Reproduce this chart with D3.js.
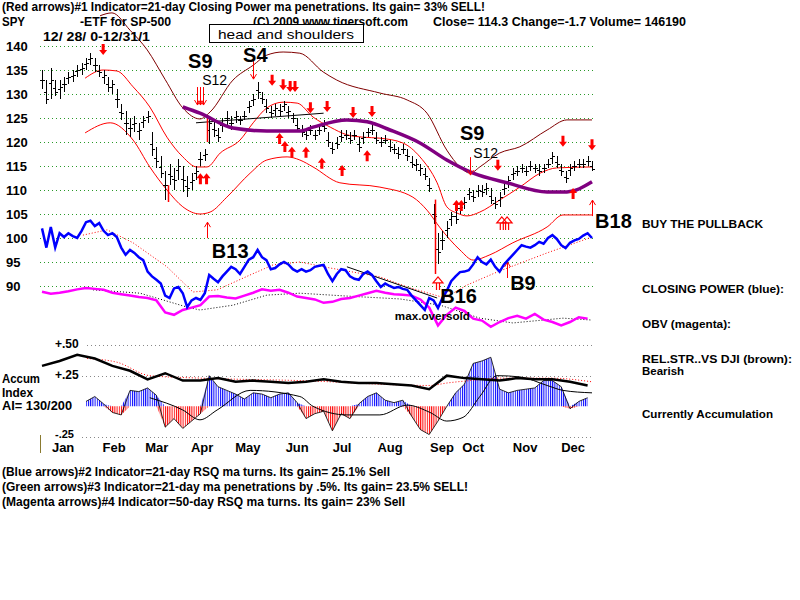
<!DOCTYPE html>
<html><head><meta charset="utf-8">
<script src="https://cdn.jsdelivr.net/npm/d3@7"></script>
<style>body{margin:0;background:#fff}svg{display:block}text{font-family:"Liberation Sans",Arial,sans-serif}</style>
</head><body><svg id="c" width="800" height="600"></svg>
<script>
// ---------------- DATA ----------------
const closes = [133,129,133,130.5,131.5,132,133.5,134,135,135.5,
136.5,137.5,136,134.5,134,131.5,132,129,126,124,
123,124,122.5,124.5,125.5,118.5,116,113.5,111,113,
112,115,112,110.5,112,114,116.5,117.5,124,122.5,
121,123.5,125,124,125.5,124.5,125.5,127.5,129,130.5,
129,127,126,127,126.5,128,126.5,125,123,122,
121.5,122.5,121.5,122.5,123,120,118.5,119.5,121,121.5,
120.5,121.5,119,121,122,122.5,120.5,120,120.5,119,
118.5,117.5,118.5,117,115.5,115.5,114.5,113,110.5,104.5,
97,99.5,102,104.5,104,106.5,107.5,109.5,108.5,110,
109.5,110.5,108,107,108.5,110.5,112,113.5,114,114.5,
114,115,114.5,114,114.5,115.5,117,115.5,114,112.5,
114.5,115,115.5,115.5,116,114.3];
const highs = [135,133,135.5,133,133,133.5,134.5,135,136,136.5,
137.5,138.5,137.5,136,135,133.5,133,131,128,126.5,
125,125.5,124,125.5,126.5,122,119,117,114,115.5,
114.5,116.5,115,113,113.5,115,118,118.5,125.5,124.5,
123,125,126.5,125.5,126.5,125.5,126.5,128.5,130,132.5,
130.5,129,127.5,128,128,128.5,127.5,126,125,123.5,
123,123.5,122.5,123.5,124.5,122,120,121,122.5,122.5,
122,122.5,121,122,123,123.5,122,121,121.5,120.5,
119.5,119,119.5,118.5,117,116.5,115.5,114.5,112.5,107,
101,101.5,103.5,105.5,106,107.5,108.5,110.5,110,111,
111,111.5,110.5,108.5,109.5,111.5,113,114.5,115,115.5,
115,116,115.5,115.5,115.5,116.5,118,117,115.5,114,
115.5,116,116.5,116.5,117,116];
const lows = [131,128,129,129.5,129,130.5,132,132.5,133.5,134,
135,136,134.5,133.5,132,130.5,130,127,124.5,121.5,
121,122,120.5,123,124,117,114.5,112.5,108,111,
110,112,109.5,108.5,110,112,115,116,119.5,121,
120,122,123.5,122.5,124,123.5,124.5,126,127.5,129,
128,126,125,125.5,125.5,126.5,125,124,122,121,
120.5,121.5,120.5,121.5,122,119,117.5,118.5,120,120.5,
119.5,120.5,118,119.5,121,121.5,119.5,119,119.5,118,
117.5,116.5,117.5,116,114.5,114,113,112,109.5,103,
94.5,97.5,100,102.5,103,105,106,108,107.5,108.5,
108.5,109,107,106,106.5,109,110.5,112,113,113.5,
113,114,113.5,113,113.5,114.5,115.5,114.5,113,111.5,
113,114,114.5,114.5,115,114];
// red highlighted bars: [index, high, low]
const redBars = [[28.6,111,107.5],[37.6,125.6,120],[89.3,108,92.5]];

// bands: [index, value]
const upperBand = [[9.8,133.3],[13.9,135],[17,134.8],[20.7,131.5],[24.5,127.3],[28.4,121],[32,116.9],[35.2,114.8],[37.5,114.8],[40.5,117.7],[45,120.4],[48,124],[51.1,127.1],[54.8,128.3],[58,128.1],[61.6,125.2],[65.5,123.1],[69.3,121.5],[73,121],[76.8,120.8],[82,119.8],[85.9,116.9],[89.8,111.5],[92,106.5],[94.3,105.2],[96.6,104.6],[99.5,105.4],[104,107.9],[108.6,110.6],[113.2,113.5],[117,114.6],[125,114.8]];
const lowerBand = [[9.8,121.9],[15.5,124],[20.7,120.4],[24.5,114.8],[28.4,110],[32,106.5],[35.9,105],[38.2,105.4],[42,108.5],[47.3,113.5],[51.1,116.25],[55.7,116.9],[58.6,116.25],[61.6,114.8],[67.7,111.5],[76.8,110.6],[84.3,108.5],[87.5,105.8],[90.5,102.1],[95,97.5],[98,95.4],[101.8,96.5],[107,99],[114.8,102.3],[118.4,104.8],[125,104.8]];
const outerBand = [[13.2,146.3],[15.9,146.9],[20,143.3],[23.9,139.2],[28,133],[32,127.1],[35.9,124.8],[38.2,126.25],[43.4,132.9],[48,136],[51.1,138.1],[54.8,138.75],[58.6,138.5],[63.9,134.6],[67,132.9],[76.8,130.2],[83,128.75],[87.5,126],[92,118.3],[95,114.8],[97.3,113.5],[99.5,114.8],[104,117.7],[108.6,119],[114.8,122.5],[119.3,124.6],[125,124.6]];
const ma50 = [[32,127.3],[35.9,126],[43.4,122.9],[51.1,122.3],[58.6,122.3],[61.6,123.1],[69.3,124.6],[73.9,124.2],[79.1,122.5],[85.9,119.8],[92,116.25],[98,113.5],[105.7,111.5],[114.8,109.6],[119.3,109.6],[125,111.7]];
const neckline = [[35,124],[64,126]];

// Closing Power (blue) and OBV (magenta), plotted in chart units
const closingPower = [102,98,102.3,98,101,100.2,101,100.4,100,101.5,
103.3,103.6,102.5,103.1,101.5,100.6,101,100.2,98,96.5,
97.5,96.9,96,95.4,93,92,91.3,90.5,88,87.5,
89.5,89.8,88.5,85.6,87,87.5,87.1,88.5,92.3,91.5,
90.8,92,93,94,93.5,92.5,94,95.5,96,97.5,
96,95.4,93.5,93.75,94.5,95,94.5,93.5,93,93.5,
93,93.3,94,94.2,94.4,92.5,91,92.5,93.5,93.3,
92,91.5,91.3,92.5,93,92.3,91,89.8,90.5,90,
89.6,89.8,89.4,89.2,88,87,86,85,87.5,87,
85.4,87.5,89,91,92,92.9,93,93.3,94.5,96,
95,94.5,95.5,94,93,94.5,95.5,96.5,97.5,98.5,
98.2,98,98.5,99.2,98.8,100,100.6,99.8,98.5,97.9,
99,99.5,99.8,100.5,101,100];
const cpMA = [[9.3,100.6],[14.8,101.7],[20.7,99],[28.4,94],[34.3,88.75],[39.8,89.2],[47.3,92.3],[52.5,94.4],[58.6,95],[65.5,93.75],[76.8,91.9],[83,89.8],[91.6,87.5],[96.6,90.2],[103.4,92.9],[114.8,96.9],[125,100.2]];
const cpTrend = [[69.3,94],[89.8,87.5]];
const obv = [88.8,88.4,88.6,88.9,89.3,89.6,89.4,89.2,88.6,88.3,
88,87.7,87.5,87,84.5,84,85,85.5,86,87.8,
87.9,87.6,87.4,88,88.6,89.3,89,89.2,88.6,87.8,
87.5,87.2,86.5,86.7,87.3,87.5,88,88.5,89,88.6,
88.3,88.2,88,87.2,85.5,81.8,84,85.5,84.8,83.2,
82.8,81.5,82.5,83.3,83.8,83.2,84.2,83,82.5,81.8,
82.5,83.5,83.2];
const obvStep = 2;
const obvMA = [[11.6,89.2],[22.3,88.5],[33,85.6],[35.9,85],[43.4,86],[51.1,88.1],[58.6,88.5],[69.3,87.9],[81.4,87.3],[90.5,86],[99.5,83.3],[107,82.3],[118.4,83.3],[125,82.9]];

// Accumulation index panel
const aiStart = 10, aiStep = 2;
const accumIndex = [0.04,0.08,0.02,-0.05,-0.07,0.13,0.12,0.15,0.09,-0.17,
-0.1,-0.18,-0.12,-0.06,0.25,0.16,0.13,0.1,0.06,0.11,
0.1,0.07,0.1,0.11,0.03,-0.1,-0.06,-0.04,-0.2,-0.06,
-0.1,0.02,0.08,0.11,0.05,0.03,0.05,-0.08,-0.19,-0.23,
-0.12,0,0.11,0.18,0.35,0.37,0.4,0.14,0.11,0.13,
0.14,0.15,0.21,0.21,0.16,-0.02,0.04,0.07];
const aiMA = [[24.5,0.07],[32,-0.03],[35.9,-0.11],[39.8,-0.03],[47.3,0.13],[58.6,0.08],[61.6,0],[69.3,-0.07],[76.8,-0.07],[83,0.01],[88.2,-0.05],[92,-0.12],[95.7,-0.09],[99.5,0.08],[103.4,0.25],[108.6,0.24],[114.8,0.17],[118.4,0.13],[125,0.11]];
const rsStep = 4;
const relStrength = [0.33,0.37,0.42,0.39,0.33,0.29,0.22,0.27,0.21,0.21,
0.23,0.2,0.21,0.2,0.19,0.2,0.22,0.2,0.19,0.19,
0.18,0.17,0.14,0.25,0.23,0.22,0.21,0.23,0.22,0.22,
0.2,0.17];
const rsMA = [[10.2,0.39],[17,0.36],[24.5,0.25],[35.9,0.23],[58.6,0.21],[88.2,0.17],[92,0.19],[97.3,0.21],[104,0.23],[115.5,0.23],[125,0.2]];

// signals: [index, price at arrow tip]
const sellFilled = [[13.9,138.1],[52.3,131.7],[54.8,130.8],[56.4,130.4],[57.5,130.4],[61,126],[64.8,126.25],[70.7,125],[75,125.2],[103.6,114],[118.4,119],[125,118.3]];
const sellThin = [[35.2,127.7],[36,127.7],[36.6,127.7],[48,133.1],[97.3,113.1]];
const buyFilled = [[36,113.5],[37.4,113.5],[54,121.9],[55.2,120.2],[56.8,119],[60,119],[63.6,116.7],[68.2,115.2],[73.9,118.3],[94.2,107.9],[95.3,107.9],[120.7,110.4]];
const buyThin = [[37.5,103.3],[105.7,95],[125,107.9]];
const buyHollow = [[90,91.9],[104.5,104.4],[105.7,104.4]];

const signalLabels = ["S9","S12","S4","S9","S12","B13","B16","B9","B18"];
const signalAt = [[33.2,135.4],[36.4,131.9],[45.7,136.7],[95,120.4],[98,116.7],[38.6,95.8],[90.5,86.5],[106.4,89.2],[125.7,102.1]];

const priceTicks = [140,135,130,125,120,115,110,105,100,95,90];
const aiTicks = [0.5,0.25,-0.25];
const aiTickLabels = ["+.50","+.25","-.25"];
const months = ["Jan","Feb","Mar","Apr","May","Jun","Jul","Aug","Sep","Oct","Nov","Dec"];
const monthAt = [4.8,16.4,26.1,36.4,46.8,58,68.2,79.1,90.9,98,109.8,120.7];

// ---------------- DRAW ----------------
const svg = d3.select("#c");
const x = d3.scaleLinear().domain([0,125]).range([42,592]);
const y = d3.scaleLinear().domain([90,140]).range([286,46]);
const ya = d3.scaleLinear().domain([-0.25,0.5]).range([437,345]);
const gx0 = 40, gx1 = 594;

function T(px,py,s,size,weight,len,fill){
  const t = svg.append("text").attr("x",px).attr("y",py).attr("font-size",size)
    .attr("font-weight",weight||"bold").attr("fill",fill||"#000").text(s);
  if(len) t.attr("textLength",len).attr("lengthAdjust","spacingAndGlyphs");
  return t;
}

// defs: stripe patterns
const defs = svg.append("defs");
[["pb","#0000ff"],["pr","#ff0000"]].forEach(([id,c])=>{
  const p = defs.append("pattern").attr("id",id).attr("patternUnits","userSpaceOnUse").attr("width",2.2).attr("height",10);
  p.append("rect").attr("x",0).attr("y",0).attr("width",1).attr("height",10).attr("fill",c);
});

// price gridlines
svg.append("g").selectAll("line").data(priceTicks).join("line")
  .attr("x1",gx0).attr("x2",gx1).attr("y1",d=>Math.round(y(d))+0.5).attr("y2",d=>Math.round(y(d))+0.5)
  .attr("stroke","#2a9a2a").attr("stroke-dasharray","1,3");
svg.append("g").selectAll("text").data(priceTicks).join("text")
  .attr("x",6).attr("y",d=>y(d)+5).attr("font-size",13).attr("font-weight","bold").text(d=>d);

// AI grid
svg.append("g").selectAll("line").data(aiTicks).join("line")
  .attr("x1",(d,i)=>i===0?87:82).attr("x2",gx1).attr("y1",d=>Math.round(ya(d))+0.5).attr("y2",d=>Math.round(ya(d))+0.5)
  .attr("stroke","#888").attr("stroke-dasharray","1,3");
svg.append("g").selectAll("text").data(aiTicks).join("text")
  .attr("x",55).attr("y",(d,i)=>ya(d)+(i===2?1:3)).attr("font-size",(d,i)=>i===2?11:12).attr("font-weight","bold").text((d,i)=>aiTickLabels[i]);

const lineP = d3.line().x(d=>x(d[0])).y(d=>y(d[1]));
const lineS = d3.line().x(d=>x(d[0])).y(d=>y(d[1])).curve(d3.curveMonotoneX);

// bands
svg.append("path").attr("d",lineS(outerBand)).attr("fill","none").attr("stroke","#800000").attr("stroke-width",1);
svg.append("path").attr("d",lineS(upperBand)).attr("fill","none").attr("stroke","#ff0000").attr("stroke-width",1);
svg.append("path").attr("d",lineS(lowerBand)).attr("fill","none").attr("stroke","#ff0000").attr("stroke-width",1);
svg.append("path").attr("d",lineP(neckline)).attr("fill","none").attr("stroke","#000").attr("stroke-width",1);

// price bars
const bars = svg.append("g").attr("stroke","#000").attr("stroke-width",1).attr("shape-rendering","crispEdges");
closes.forEach((c,i)=>{
  const px = Math.round(x(i))+0.5;
  bars.append("line").attr("x1",px).attr("x2",px).attr("y1",y(highs[i])).attr("y2",y(lows[i]));
  bars.append("line").attr("x1",px).attr("x2",px+2.5).attr("y1",Math.round(y(c))+0.5).attr("y2",Math.round(y(c))+0.5);
  bars.append("line").attr("x1",px-2.5).attr("x2",px).attr("y1",Math.round(y((highs[i]+lows[i])/2))+0.5).attr("y2",Math.round(y((highs[i]+lows[i])/2))+0.5);
});
svg.append("g").selectAll("line").data(redBars).join("line")
  .attr("x1",d=>Math.round(x(d[0]))+0.5).attr("x2",d=>Math.round(x(d[0]))+0.5)
  .attr("y1",d=>y(d[1])).attr("y2",d=>y(d[2])).attr("stroke","#ff0000").attr("stroke-width",1.5);

// 50-day ma purple
svg.append("path").attr("d",lineS(ma50)).attr("fill","none").attr("stroke","#800080").attr("stroke-width",3.5);

// arrows
const ag = svg.append("g");
function filled(d,dir){
  const cx = x(d[0]), ty = y(d[1]), s = dir; // dir: 1 down (tip bottom), -1 up
  const p = [[cx-1.5,ty-11*s],[cx+1.5,ty-11*s],[cx+1.5,ty-5*s],[cx+4,ty-5*s],[cx,ty],[cx-4,ty-5*s],[cx-1.5,ty-5*s]];
  ag.append("path").attr("d","M"+p.map(q=>q.join(",")).join("L")+"Z").attr("fill","#ff0000");
}
function thin(d,dir,len){
  const cx = Math.round(x(d[0]))+0.5, ty = y(d[1]), s = dir;
  ag.append("path").attr("d",`M${cx},${ty-len*s}L${cx},${ty}M${cx-3},${ty-5*s}L${cx},${ty}L${cx+3},${ty-5*s}`)
    .attr("fill","none").attr("stroke","#ff0000").attr("stroke-width",1);
}
function hollow(d){
  const cx = x(d[0]), ty = y(d[1]);
  ag.append("path").attr("d",`M${cx-5},${ty+6}L${cx},${ty}L${cx+5},${ty+6}Z M${cx-1.5},${ty+6}L${cx-1.5},${ty+13} M${cx+1.5},${ty+6}L${cx+1.5},${ty+13}`)
    .attr("fill","none").attr("stroke","#ff0000").attr("stroke-width",1.2);
}
sellFilled.forEach(d=>filled(d,1));
buyFilled.forEach(d=>filled(d,-1));
sellThin.forEach(d=>thin(d,1,18));
buyThin.forEach(d=>thin(d,-1,16));
buyHollow.forEach(d=>hollow(d));

// closing power & obv
const lineI = d3.line().x((d,i)=>x(i)).y(d=>y(d));
svg.append("path").attr("d",lineP(cpMA)).attr("fill","none").attr("stroke","#ff0000").attr("stroke-width",1).attr("stroke-dasharray","1,2");
svg.append("path").attr("d",lineP(obvMA)).attr("fill","none").attr("stroke","#000").attr("stroke-width",1).attr("stroke-dasharray","1,2");
svg.append("path").attr("d",lineP(cpTrend)).attr("fill","none").attr("stroke","#000").attr("stroke-width",1);
svg.append("path").attr("d",d3.line().x((d,i)=>x(i*obvStep)).y(d=>y(d))(obv)).attr("fill","none").attr("stroke","#ff00ff").attr("stroke-width",2.5);
svg.append("path").attr("d",lineI(closingPower)).attr("fill","none").attr("stroke","#0000ff").attr("stroke-width",2.5);

// accumulation panel
const aiPts = accumIndex.map((v,i)=>[aiStart+i*aiStep,v]);
const areaPos = d3.area().x(d=>x(d[0])).y0(ya(0)).y1(d=>ya(Math.max(0,d[1])));
const areaNeg = d3.area().x(d=>x(d[0])).y0(ya(0)).y1(d=>ya(Math.min(0,d[1])));
svg.append("path").attr("d",areaPos(aiPts)).attr("fill","url(#pb)");
svg.append("path").attr("d",areaNeg(aiPts)).attr("fill","url(#pr)");
svg.append("path").attr("d",d3.line().x(d=>x(d[0])).y(d=>ya(d[1]))(aiPts)).attr("fill","none").attr("stroke","#000").attr("stroke-width",0.8);
const lineA = d3.line().x(d=>x(d[0])).y(d=>ya(d[1])).curve(d3.curveMonotoneX);
svg.append("path").attr("d",lineA(aiMA)).attr("fill","none").attr("stroke","#000").attr("stroke-width",1);
svg.append("path").attr("d",lineA(rsMA)).attr("fill","none").attr("stroke","#ff0000").attr("stroke-width",1).attr("stroke-dasharray","1,2");
svg.append("path").attr("d",d3.line().x((d,i)=>x(i*rsStep)).y(d=>ya(d))(relStrength)).attr("fill","none").attr("stroke","#000").attr("stroke-width",2.5);
svg.append("line").attr("x1",40.5).attr("x2",40.5).attr("y1",435).attr("y2",453).attr("stroke","#8a7a30").attr("stroke-width",1);

// month labels
svg.append("g").selectAll("text").data(months).join("text")
  .attr("x",(d,i)=>x(monthAt[i])).attr("y",452).attr("text-anchor","middle")
  .attr("font-size",13).attr("font-weight","bold").text(d=>d);

// signal labels
const sizes = [20,14,20,20,14,20,20,20,20];
const weights = ["bold","normal","bold","bold","normal","bold","bold","bold","bold"];
svg.append("g").selectAll("text").data(signalLabels).join("text")
  .attr("x",(d,i)=>x(signalAt[i][0])).attr("y",(d,i)=>y(signalAt[i][1]))
  .attr("font-size",(d,i)=>sizes[i]).attr("font-weight",(d,i)=>weights[i]).text(d=>d);
T(x(80.2),y(82.9),"max.oversold",11,"bold",75);

// header
T(2,11,"(Red arrows)#1 Indicator=21-day Closing Power ma penetrations. Its gain= 33% SELL!",12,"bold",483);
T(2,26,"SPY",12,"bold",23);
T(80,26,"-ETF for SP-500",12,"bold",91);
T(253,26,"(C) 2009 www.tigersoft.com",12,"bold",155);
T(433,26,"Close=  114.3  Change=-1.7 Volume= 146190",12,"bold",253);
T(43,41,"12/ 28/ 0-12/31/1",12,"bold",107);
svg.append("rect").attr("x",209.5).attr("y",24.5).attr("width",154).attr("height",18).attr("fill","#fff").attr("stroke","#000");
T(218,39,"head and shoulders",13.5,"normal",136);

// right labels
T(642,228,"BUY THE PULLBACK",11,"bold",121);
T(642,293,"CLOSING POWER (blue):",11,"bold",142);
T(642,328,"OBV (magenta):",11,"bold",89);
T(642,363,"REL.STR..VS DJI (brown):",11,"bold",150);
T(642,375,"Bearish",11,"bold",42);
T(642,418,"Currently Accumulation",11,"bold",131);

// left panel labels
T(2,383,"Accum",12,"bold",38);
T(2,397,"Index",12,"bold",31);
T(2,410,"AI= 130/200",12,"bold",70);

// footer
T(2,476,"(Blue arrows)#2 Indicator=21-day RSQ ma turns. Its gain= 25.1% Sell",12,"bold",388);
T(2,491,"(Green arrows)#3 Indicator=21-day ma penetrations by .5%. Its gain= 23.5% SELL!",12,"bold",466);
T(2,506,"(Magenta arrows)#4 Indicator=50-day RSQ ma turns. Its gain= 23% Sell",12,"bold",403);
</script></body></html>
